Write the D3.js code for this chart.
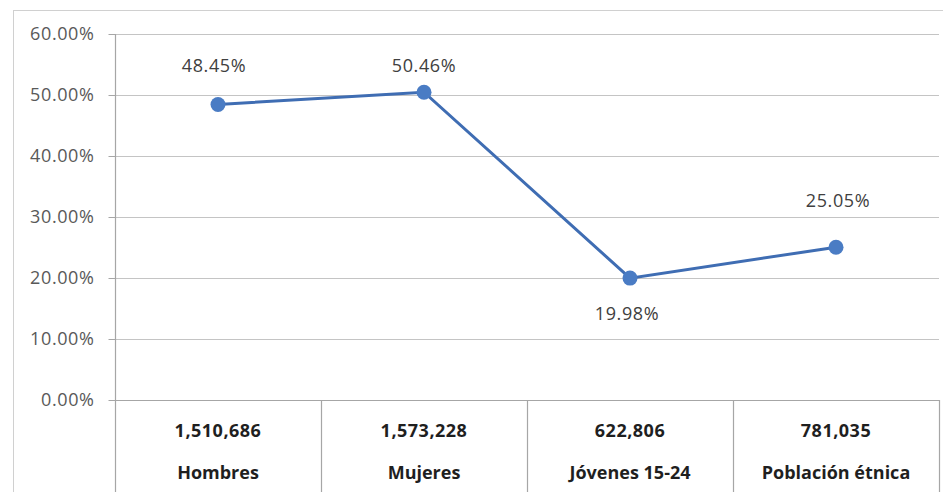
<!DOCTYPE html>
<html>
<head>
<meta charset="utf-8">
<script src="https://cdn.jsdelivr.net/npm/d3@7"></script>
<style>
  body { margin: 0; background: #fff; }
  svg { display: block; font-family: "Open Sans", sans-serif; }
</style>
</head>
<body>
<svg width="943" height="492"></svg>
<script>
var categories = ['Hombres', 'Mujeres', 'Jóvenes 15-24', 'Población étnica'];
var totals = ['1,510,686', '1,573,228', '622,806', '781,035'];
var shares = [0.4845, 0.5046, 0.1998, 0.2505];
var yTicks = [0, 0.1, 0.2, 0.3, 0.4, 0.5, 0.6];

var width = 943;
var height = 492;
var plotLeft = 115, plotRight = 939, plotTop = 34, plotBottom = 400;
// where each data label sits relative to its point (baseline offset)
var labelDx = [-4, 0, -3, 2];
var labelDy = [-32, -20, 42, -40];

var svg = d3.select('svg');

// outer chart border
svg.append('rect')
  .attr('x', 13.5).attr('y', 10.5)
  .attr('width', 960).attr('height', 500)
  .attr('fill', '#fff')
  .attr('stroke', '#d0d0d0');

var xScale = d3.scaleBand()
  .domain(categories)
  .range([plotLeft, plotRight]);

var yScale = d3.scaleLinear()
  .domain([0, 0.6])
  .range([plotBottom, plotTop]);

// gridlines
svg.append('g').selectAll('line').data(yTicks).enter()
  .append('line')
  .attr('x1', plotLeft).attr('x2', plotRight)
  .attr('y1', function(d) { return Math.round(yScale(d)) + 0.5; })
  .attr('y2', function(d) { return Math.round(yScale(d)) + 0.5; })
  .attr('stroke', function(d) { return d === 0 ? '#a6a6a6' : '#c4c4c4'; })
  .attr('stroke-width', 1.2);

// y axis
var axisVertical = d3.axisLeft(yScale)
  .tickValues(yTicks)
  .tickFormat(d3.format('.2%'))
  .tickSize(7)
  .tickPadding(14);
var yAxis = svg.append('g')
  .attr('transform', 'translate(' + (plotLeft + 0.5) + ',0)')
  .call(axisVertical);
yAxis.select('.domain').remove();
yAxis.selectAll('.tick line').attr('stroke', '#a6a6a6');
yAxis.selectAll('.tick text')
  .attr('fill', '#595959')
  .style('font-size', '18px')
  .style('letter-spacing', '0.6px')
  .style('font-family', '"Open Sans", sans-serif');

// vertical axis line and category separators
var seps = [plotLeft].concat(categories.map(function(c) { return xScale(c) + xScale.bandwidth(); }));
svg.append('g').selectAll('line').data(seps).enter()
  .append('line')
  .attr('x1', function(d) { return Math.round(d) + 0.5; })
  .attr('x2', function(d) { return Math.round(d) + 0.5; })
  .attr('y1', function(d, i) { return i === 0 ? plotTop : plotBottom; })
  .attr('y2', height)
  .attr('stroke', '#a6a6a6')
  .attr('stroke-width', 1.2);

// category table text
var cx = function(d) { return xScale(d) + xScale.bandwidth() / 2; };
svg.append('g').selectAll('text').data(categories).enter()
  .append('text')
  .attr('x', cx)
  .attr('y', 437)
  .attr('text-anchor', 'middle')
  .attr('font-size', 18)
  .attr('font-weight', 'bold')
  .attr('letter-spacing', 0.5)
  .attr('fill', '#1f1f1f')
  .text(function(d, i) { return totals[i]; });

svg.append('g').selectAll('text').data(categories).enter()
  .append('text')
  .attr('x', cx)
  .attr('y', 479)
  .attr('text-anchor', 'middle')
  .attr('font-size', 18)
  .attr('font-weight', 'bold')
  .attr('fill', '#1f1f1f')
  .text(function(d) { return d; });

// line series
var line = d3.line()
  .x(function(d, i) { return cx(categories[i]); })
  .y(function(d) { return yScale(d); });

svg.append('path')
  .datum(shares)
  .attr('d', line)
  .attr('fill', 'none')
  .attr('stroke', '#3f6db3')
  .attr('stroke-width', 3);

svg.append('g').selectAll('circle').data(shares).enter()
  .append('circle')
  .attr('cx', function(d, i) { return cx(categories[i]); })
  .attr('cy', function(d) { return yScale(d); })
  .attr('r', 7.5)
  .attr('fill', '#4a7cc4');

// data labels
svg.append('g').selectAll('text').data(shares).enter()
  .append('text')
  .attr('x', function(d, i) { return cx(categories[i]) + labelDx[i]; })
  .attr('y', function(d, i) { return yScale(d) + labelDy[i]; })
  .attr('text-anchor', 'middle')
  .attr('font-size', 18)
  .attr('letter-spacing', 0.6)
  .attr('fill', '#404040')
  .text(function(d) { return d3.format('.2%')(d); });
</script>
</body>
</html>
